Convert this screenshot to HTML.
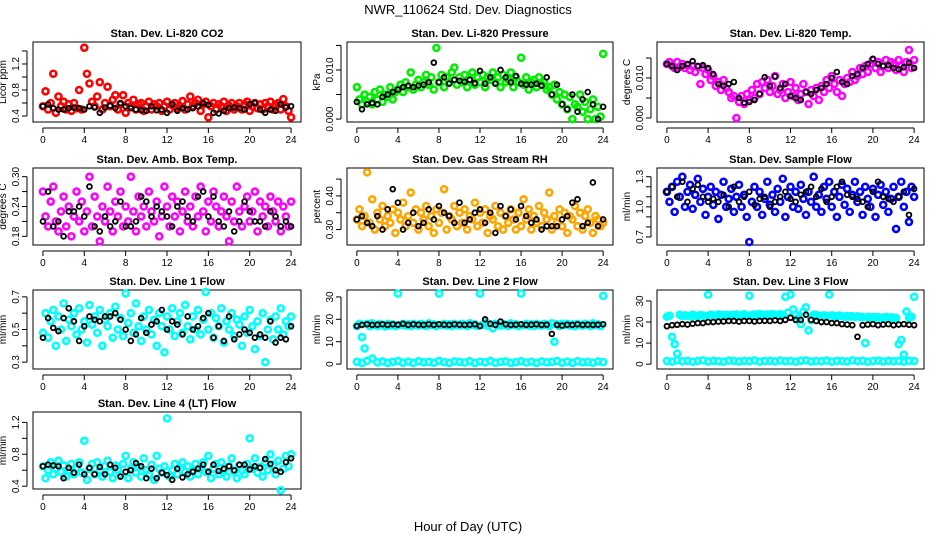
<!DOCTYPE html>
<html><head><meta charset="utf-8">
<style>
html,body{margin:0;padding:0;background:#fff;}
svg{display:block;font-family:"Liberation Sans",Arial,sans-serif;}
</style></head>
<body>
<svg id="chart" width="936" height="540" viewBox="0 0 936 540">
<text x="468" y="14" text-anchor="middle" font-size="13">NWR_110624  Std. Dev. Diagnostics</text>
<text x="468" y="531" text-anchor="middle" font-size="13">Hour of Day (UTC)</text>
</svg>
<script>
// ---------- data ----------
const xTicks = [0,4,8,12,16,20,24];
const co2Red = [0.55,0.78,0.5,0.6,1.05,0.45,0.7,0.55,0.62,0.5,0.58,0.48,0.6,0.52,0.8,0.5,1.45,1.05,0.9,0.62,0.55,0.7,0.92,0.5,0.6,0.85,0.55,0.65,0.72,0.5,0.58,0.72,0.45,0.6,0.55,0.65,0.5,0.58,0.6,0.48,0.55,0.62,0.5,0.58,0.55,0.6,0.48,0.55,0.62,0.5,0.57,0.6,0.52,0.55,0.63,0.5,0.58,0.7,0.55,0.6,0.65,0.48,0.58,0.62,0.38,0.55,0.6,0.5,0.58,0.55,0.62,0.48,0.56,0.6,0.5,0.55,0.6,0.5,0.58,0.62,0.48,0.55,0.6,0.52,0.58,0.5,0.6,0.55,0.62,0.5,0.57,0.6,0.5,0.66,0.55,0.48,0.38];
const co2Black = [0.55,0.58,0.52,0.5,0.5,0.52,0.53,0.52,0.5,0.55,0.53,0.45,0.53,0.56,0.52,0.6,0.55,0.52,0.5,0.49,0.48,0.55,0.49,0.5,0.45,0.58,0.48,0.52,0.5,0.52,0.55,0.6,0.57,0.45,0.44,0.48,0.52,0.53,0.52,0.5,0.58,0.6,0.5,0.45,0.5,0.48,0.58,0.53,0.55];
const presGreen = [0.0065,0.004,0.003,0.005,0.0035,0.0045,0.003,0.0055,0.004,0.006,0.0035,0.005,0.0045,0.0065,0.004,0.0055,0.006,0.007,0.0055,0.0075,0.0065,0.0095,0.006,0.007,0.008,0.0065,0.0075,0.009,0.007,0.0085,0.006,0.0145,0.0075,0.009,0.0065,0.0085,0.0075,0.0095,0.0105,0.007,0.0085,0.0075,0.009,0.0065,0.008,0.0095,0.007,0.0085,0.0075,0.009,0.0065,0.0085,0.008,0.0095,0.0075,0.0085,0.0065,0.009,0.0075,0.008,0.0095,0.0065,0.0085,0.0075,0.0125,0.007,0.0085,0.006,0.0075,0.008,0.0065,0.0085,0.007,0.0075,0.006,0.0065,0.005,0.007,0.004,0.0055,0.003,0.005,0.002,0.0045,0.0,0.003,0.0025,0.005,0.0015,0.0035,0.0,0.002,0.004,0.0,0.0025,0.0005,0.0133];
const presBlack = [0.0035,0.002,0.003,0.0033,0.003,0.0045,0.005,0.0055,0.006,0.0065,0.0068,0.0065,0.0068,0.007,0.0075,0.0115,0.0075,0.0085,0.0072,0.008,0.0078,0.0076,0.008,0.0073,0.0098,0.0072,0.0085,0.0072,0.01,0.0085,0.0075,0.0088,0.0072,0.007,0.007,0.0072,0.0068,0.0085,0.005,0.007,0.003,0.002,0.005,0.0015,0.004,0.0055,0.003,0.0,0.0025];
const tempMag = [0.0135,0.014,0.013,0.0125,0.014,0.0128,0.0135,0.0125,0.0132,0.012,0.013,0.0115,0.0128,0.0085,0.0125,0.011,0.012,0.0095,0.0105,0.008,0.009,0.007,0.0095,0.0075,0.0065,0.005,0.0055,0.0,0.004,0.0055,0.0035,0.006,0.0045,0.007,0.005,0.0085,0.006,0.009,0.0075,0.0095,0.0065,0.008,0.0105,0.006,0.007,0.0085,0.005,0.0065,0.009,0.0055,0.0075,0.0045,0.006,0.0085,0.0065,0.0035,0.007,0.0055,0.0075,0.0045,0.008,0.0065,0.0095,0.0075,0.0105,0.0085,0.0065,0.0095,0.0055,0.0085,0.01,0.009,0.0115,0.0095,0.0105,0.0125,0.011,0.013,0.0115,0.0135,0.0145,0.0125,0.014,0.0115,0.013,0.0145,0.0125,0.014,0.0135,0.012,0.0145,0.013,0.0115,0.014,0.017,0.0125,0.0145];
const tempBlack = [0.0135,0.013,0.012,0.013,0.0135,0.0142,0.013,0.0132,0.0125,0.011,0.0085,0.008,0.0085,0.009,0.005,0.0038,0.004,0.0045,0.006,0.0102,0.008,0.0104,0.0075,0.0085,0.0055,0.005,0.0045,0.0065,0.006,0.007,0.0075,0.0085,0.01,0.0115,0.009,0.0085,0.0105,0.011,0.0125,0.0135,0.0148,0.0135,0.013,0.0132,0.0125,0.0122,0.0127,0.0138,0.0125];
const boxMag = [0.27,0.22,0.2,0.25,0.28,0.21,0.19,0.23,0.26,0.2,0.24,0.18,0.22,0.27,0.21,0.25,0.19,0.23,0.3,0.2,0.26,0.22,0.17,0.24,0.21,0.28,0.23,0.19,0.25,0.22,0.27,0.2,0.24,0.21,0.3,0.23,0.19,0.26,0.22,0.24,0.2,0.27,0.23,0.21,0.25,0.18,0.22,0.28,0.24,0.2,0.26,0.22,0.25,0.19,0.23,0.27,0.21,0.24,0.2,0.26,0.22,0.28,0.23,0.19,0.25,0.21,0.27,0.24,0.2,0.23,0.26,0.22,0.17,0.25,0.21,0.28,0.23,0.2,0.24,0.26,0.21,0.23,0.27,0.19,0.25,0.22,0.24,0.2,0.26,0.23,0.21,0.25,0.19,0.24,0.22,0.2,0.25];
const boxBlack = [0.21,0.27,0.2,0.21,0.18,0.23,0.23,0.24,0.22,0.28,0.2,0.19,0.22,0.2,0.21,0.25,0.2,0.2,0.21,0.26,0.25,0.22,0.24,0.23,0.22,0.2,0.24,0.25,0.22,0.21,0.26,0.27,0.22,0.26,0.21,0.2,0.23,0.19,0.21,0.25,0.23,0.21,0.21,0.2,0.23,0.22,0.2,0.21,0.2];
const rhOrange = [0.33,0.36,0.31,0.34,0.47,0.32,0.39,0.3,0.35,0.33,0.37,0.31,0.34,0.32,0.36,0.29,0.35,0.33,0.38,0.31,0.34,0.41,0.32,0.36,0.3,0.35,0.33,0.37,0.31,0.34,0.29,0.36,0.32,0.35,0.42,0.3,0.34,0.33,0.37,0.31,0.35,0.32,0.36,0.3,0.34,0.33,0.38,0.31,0.35,0.32,0.36,0.29,0.34,0.33,0.37,0.31,0.35,0.3,0.34,0.32,0.36,0.33,0.3,0.35,0.31,0.39,0.33,0.36,0.3,0.34,0.32,0.37,0.31,0.35,0.33,0.41,0.3,0.34,0.32,0.36,0.31,0.35,0.29,0.34,0.33,0.37,0.31,0.35,0.3,0.34,0.36,0.32,0.29,0.34,0.33,0.31,0.32];
const rhBlack = [0.33,0.34,0.32,0.31,0.34,0.3,0.36,0.42,0.38,0.3,0.32,0.35,0.31,0.32,0.36,0.33,0.37,0.35,0.34,0.32,0.38,0.32,0.33,0.35,0.36,0.32,0.35,0.29,0.37,0.34,0.36,0.33,0.37,0.34,0.32,0.33,0.3,0.31,0.31,0.31,0.33,0.34,0.38,0.39,0.31,0.32,0.44,0.31,0.33];
const flowBlue = [1.15,1.05,1.2,0.95,1.25,1.1,1.3,1.0,1.15,1.22,0.98,1.12,1.28,1.05,1.18,0.92,1.1,1.2,1.02,1.15,0.88,1.12,1.25,1.0,1.08,1.18,0.95,1.1,1.22,1.0,1.12,0.9,0.65,1.05,1.2,1.0,1.15,0.92,1.08,1.25,1.02,1.12,0.95,1.18,1.05,1.28,0.9,1.1,1.2,1.0,1.15,0.98,1.22,1.08,0.92,1.15,1.05,1.3,1.0,1.12,0.95,1.2,1.08,1.25,1.0,1.15,0.9,1.1,1.22,1.02,1.18,0.95,1.12,1.25,1.05,1.15,0.92,1.2,1.08,1.0,1.18,0.9,1.12,1.22,1.02,1.15,0.95,1.08,1.2,0.78,1.1,1.25,1.0,1.15,0.85,1.2,1.1];
const flowBlack = [1.15,1.2,1.1,1.25,1.05,1.18,1.22,1.1,1.05,1.08,1.05,1.12,1.0,1.2,1.05,1.1,1.15,1.02,1.08,1.1,1.0,1.05,1.1,1.15,1.08,1.05,1.12,1.15,1.2,1.1,1.18,1.05,1.1,1.2,1.25,1.12,1.1,1.08,1.05,1.0,1.15,1.25,1.1,1.08,1.05,1.1,1.15,0.92,1.18];
const line1Cyan = [0.48,0.6,0.45,0.55,0.62,0.4,0.58,0.5,0.66,0.43,0.56,0.52,0.6,0.47,0.63,0.5,0.55,0.42,0.65,0.53,0.58,0.48,0.62,0.4,0.56,0.52,0.6,0.45,0.64,0.5,0.57,0.46,0.72,0.54,0.6,0.48,0.66,0.52,0.43,0.58,0.5,0.62,0.47,0.56,0.4,0.6,0.52,0.36,0.58,0.5,0.63,0.46,0.55,0.6,0.48,0.65,0.52,0.44,0.58,0.5,0.62,0.47,0.56,0.73,0.5,0.6,0.45,0.57,0.52,0.63,0.42,0.55,0.5,0.6,0.46,0.56,0.53,0.4,0.58,0.48,0.62,0.52,0.38,0.55,0.46,0.6,0.3,0.5,0.56,0.44,0.58,0.5,0.63,0.47,0.55,0.52,0.58];
const line1Black = [0.45,0.57,0.51,0.49,0.57,0.63,0.55,0.43,0.52,0.58,0.56,0.55,0.58,0.58,0.6,0.56,0.5,0.43,0.47,0.57,0.48,0.53,0.55,0.62,0.5,0.55,0.53,0.47,0.58,0.5,0.52,0.57,0.6,0.45,0.52,0.43,0.58,0.44,0.47,0.5,0.48,0.45,0.47,0.45,0.55,0.42,0.45,0.44,0.52];
const line2CyanHigh = [17,18,12,7,18,17,18.2,17.5,17,18,17.5,16.8,18,17.2,17.8,17,31.5,17.5,18,17.2,17.8,17,18,17.5,17.2,18,17.5,17,18.2,17.5,17.8,17,31.5,17.5,18,17.2,17.8,17,18,17.5,17.2,18,17.5,17,18.2,17.5,17.8,17,31.5,17.5,18.5,17.2,17.8,16,18,17.5,17.2,18,17.5,17,18.2,17.5,17.8,17,31.5,17.5,18,17.2,17.8,17,18,17.5,17.2,18,17.5,17,18.2,10,17.8,17,18,17.5,18,17.2,17.8,17,18,17.5,17.2,18,17.5,17,18.2,17.5,17.8,17,30.5];
const line2CyanLow = [1,0.5,1.5,2.5,0.8,1.2,0.5,1,1.4,0.6,1.1,0.5,1.3,0.8,1,0.6,1.4,0.9,0.5,1.2,1,0.7,1.3,0.5,1.1,0.8,1.4,0.6,1,1.2,0.5,0.9,1.3,0.7,1.1,0.5,1.2,0.8,1,1.4,0.6,1.1,0.5,1.3,0.8,1,0.6,1.2,0.9];
const line2Black = [17,17.5,17.8,17.5,17.6,17.8,17.5,17.8,17.6,18,17.5,17.8,17.6,17.5,17.8,17.5,17.8,17.6,17.5,17.8,17.6,17.5,17.6,17.8,17,20,18,17.5,19,17.8,17.5,17.6,17.8,17.5,17.6,17.8,17.5,17.6,13.5,17.5,17.2,17.6,17.5,17.8,17.5,17.6,17.5,17.6,17.8];
const line3CyanHigh = [22.5,23,13,9.5,5,23.5,22.8,23.2,23,22.7,23.5,23,22.8,23.3,23.1,22.9,33,23.5,23.2,23,23.6,23.3,23.1,23.5,22.9,23.4,23.2,23.6,23.3,23.1,23.7,23.2,32.5,23.4,23.6,23.3,23.8,23.5,23.2,23.6,23.4,23.8,23.5,23.3,23.7,23.4,32,24.5,33,26,23.5,22,19,25,27,16,21,23.5,23.3,23,22.8,23.2,23,33,23.2,22.9,22.7,23.1,22.8,22.5,22.9,22.6,22.8,22.4,22.7,22.5,22.3,10,22.5,22.2,22.4,22.1,22.3,22,22.2,22.4,22,22.3,21.8,22,9.5,11.5,4.5,25,22,22.5,32];
const line3CyanLow = [1.5,1.2,1.8,1.4,1.6,1.2,1.5,1.8,1.3,1.6,1.4,1.2,1.7,1.5,1.3,1.6,1.4,1.8,1.2,1.5,1.6,1.3,1.7,1.4,1.5,1.2,1.6,1.8,1.3,1.5,1.4,1.7,1.2,1.6,1.5,1.3,1.8,1.4,1.6,1.2,1.5,1.7,1.3,1.6,1.4,1.5,1.2,1.6,1.5];
const line3Black = [18,18.5,18.7,19,18.8,19.2,19.5,19.5,20,20,20.2,20.3,20.5,20.5,20.2,20.5,20.5,20.3,20.5,20.6,20.5,20.8,20.5,21,22,21,21,23.5,21,20.5,20,20,19.5,19.5,19,18.8,18.5,13,18.5,18.8,19,18.5,18.8,19,18.5,18.8,19,18.7,18.5];
const line4Cyan = [0.65,0.5,0.6,0.7,0.55,0.62,0.72,0.58,0.66,0.52,0.6,0.68,0.55,0.63,0.7,0.57,0.97,0.48,0.62,0.68,0.55,0.7,0.6,0.52,0.65,0.72,0.58,0.5,0.66,0.6,0.55,0.68,0.78,0.5,0.62,0.7,0.57,0.64,0.52,0.75,0.6,0.55,0.67,0.48,0.78,0.62,0.57,0.65,1.25,0.52,0.6,0.68,0.55,0.62,0.7,0.58,0.65,0.52,0.6,0.68,0.55,0.63,0.7,0.58,0.78,0.5,0.62,0.68,0.55,0.7,0.6,0.52,0.65,0.75,0.58,0.5,0.66,0.6,0.55,0.68,1.0,0.62,0.75,0.57,0.64,0.52,0.7,0.6,0.8,0.67,0.55,0.72,0.35,0.62,0.78,0.65,0.8];
const line4Black = [0.65,0.67,0.66,0.65,0.5,0.63,0.57,0.67,0.55,0.63,0.55,0.64,0.55,0.67,0.63,0.52,0.58,0.6,0.69,0.65,0.5,0.62,0.5,0.57,0.54,0.48,0.62,0.51,0.55,0.58,0.62,0.67,0.58,0.67,0.59,0.62,0.65,0.6,0.67,0.67,0.61,0.65,0.63,0.74,0.68,0.6,0.58,0.7,0.75];
const yTicks1 = [0.4,0.6,0.8,1.0,1.2,1.4], yLabels1 = ["0.4","","0.8","","1.2",""];
const yTicks2 = [0,0.005,0.01,0.015], yLabels2 = ["0.000","","0.010",""];
const yTicks3 = [0,0.005,0.01,0.015], yLabels3 = ["0.000","","0.010",""];
const yTicks4 = [0.18,0.21,0.24,0.27,0.30], yLabels4 = ["0.18","","0.24","","0.30"];
const yTicks5 = [0.30,0.35,0.40,0.45], yLabels5 = ["0.30","","0.40",""];
const yTicks6 = [0.7,0.8,0.9,1.0,1.1,1.2,1.3], yLabels6 = ["0.7","","","1.0","","","1.3"];
const yTicks7 = [0.3,0.4,0.5,0.6,0.7], yLabels7 = ["0.3","","0.5","","0.7"];
const yTicks8 = [0,10,20,30], yLabels8 = ["0","10","20","30"];
const yTicks9 = [0,10,20,30], yLabels9 = ["0","10","20","30"];
const yTicks10 = [0.4,0.6,0.8,1.0,1.2], yLabels10 = ["0.4","","0.8","","1.2"];

// ---------- layout ----------
const colX = [[33,301],[347,613],[657,924]];
const rowY = [[42,122],[168,245],[290,369],[412,489]];
const panels = [
 {name:'co2',title:'Stan. Dev. Li-820 CO2',ylab:'Licor ppm',c:0,r:0,dom:[0.308,1.538],yt:yTicks1,yl:yLabels1,series:[[co2Red,'#ff0000'],[co2Black,'#000']]},
 {name:'pressure',title:'Stan. Dev. Li-820 Pressure',ylab:'kPa',c:1,r:0,dom:[-0.0006,0.0157],yt:yTicks2,yl:yLabels2,series:[[presGreen,'#00ee00'],[presBlack,'#000']]},
 {name:'li820-temp',title:'Stan. Dev. Li-820 Temp.',ylab:'degrees C',c:2,r:0,dom:[-0.001,0.019],yt:yTicks3,yl:yLabels3,series:[[tempMag,'#ff00ff'],[tempBlack,'#000']]},
 {name:'box-temp',title:'Stan. Dev. Amb. Box Temp.',ylab:'degrees C',c:0,r:1,dom:[0.1626,0.3174],yt:yTicks4,yl:yLabels4,series:[[boxMag,'#ff00ff'],[boxBlack,'#000']]},
 {name:'gas-rh',title:'Stan. Dev. Gas Stream RH',ylab:'percent',c:1,r:1,dom:[0.254,0.483],yt:yTicks5,yl:yLabels5,series:[[rhOrange,'#ffa500'],[rhBlack,'#000']]},
 {name:'sample-flow',title:'Stan. Dev. Sample Flow',ylab:'ml/min',c:2,r:1,dom:[0.62,1.387],yt:yTicks6,yl:yLabels6,series:[[flowBlue,'#0000ff'],[flowBlack,'#000']]},
 {name:'line1-flow',title:'Stan. Dev. Line 1 Flow',ylab:'ml/min',c:0,r:2,dom:[0.258,0.742],yt:yTicks7,yl:yLabels7,series:[[line1Cyan,'#00ffff'],[line1Black,'#000']]},
 {name:'line2-flow',title:'Stan. Dev. Line 2 Flow',ylab:'ml/min',c:1,r:2,dom:[-2.2,33.1],yt:yTicks8,yl:yLabels8,series:[[line2CyanLow,'#00ffff'],[line2CyanHigh,'#00ffff'],[line2Black,'#000']]},
 {name:'line3-flow',title:'Stan. Dev. Line 3 Flow',ylab:'ml/min',c:2,r:2,dom:[-2.3,35.2],yt:yTicks9,yl:yLabels9,series:[[line3CyanLow,'#00ffff'],[line3CyanHigh,'#00ffff'],[line3Black,'#000']]},
 {name:'line4-flow',title:'Stan. Dev. Line 4 (LT) Flow',ylab:'ml/min',c:0,r:3,dom:[0.365,1.33],yt:yTicks10,yl:yLabels10,series:[[line4Cyan,'#00ffff'],[line4Black,'#000']]}
];
const NS='http://www.w3.org/2000/svg';
const svg=document.getElementById('chart');
function mk(tag,attrs,parent){const e=document.createElementNS(NS,tag);for(const k in attrs)e.setAttribute(k,attrs[k]);(parent||svg).appendChild(e);return e;}
panels.forEach(p=>{
  const [x0,x1]=colX[p.c],[y0,y1]=rowY[p.r];
  const g=mk('g',{});
  
  
  const xs=h=>x0+(h+0.96)/25.92*(x1-x0);
  const ys=v=>y1-(v-p.dom[0])/(p.dom[1]-p.dom[0])*(y1-y0);
  const t=mk('text',{x:(x0+x1)/2,y:y0-5,'text-anchor':'middle','font-size':11,'font-weight':'bold'},g);
  t.textContent=p.title;
  
  
  const box=mk('rect',{x:x0,y:y0,width:x1-x0,height:y1-y0,fill:'none',stroke:'#000','stroke-width':1},g);
  
  
  const xa=mk('g',{},g);
  
  
  mk('line',{x1:xs(xTicks[0]),x2:xs(xTicks[xTicks.length-1]),y1:y1+6,y2:y1+6,stroke:'#000'},xa);
  xTicks.forEach(v=>{
    mk('line',{x1:xs(v),x2:xs(v),y1:y1+6,y2:y1+11,stroke:'#000'},xa);
    const l=mk('text',{x:xs(v),y:y1+21,'text-anchor':'middle','font-size':10},xa);l.textContent=v;
  });
  const ya=mk('g',{},g);
  
  
  mk('line',{x1:x0-6,x2:x0-6,y1:ys(p.yt[0]),y2:ys(p.yt[p.yt.length-1]),stroke:'#000'},ya);
  p.yt.forEach((v,i)=>{
    mk('line',{x1:x0-11,x2:x0-6,y1:ys(v),y2:ys(v),stroke:'#000'},ya);
    if(p.yl[i]){const l=mk('text',{x:x0-14,y:ys(v),'text-anchor':'middle','font-size':10,transform:`rotate(-90 ${x0-14} ${ys(v)})`},ya);l.textContent=p.yl[i];}
  });
  const yt=mk('text',{x:x0-27,y:(y0+y1)/2,'text-anchor':'middle','font-size':10,transform:`rotate(-90 ${x0-27} ${(y0+y1)/2})`},g);
  yt.textContent=p.ylab;
  
  
  p.series.forEach(([vals,col],si)=>{
    const isBlack=col==='#000';
    const sg=mk('g',{fill:'none',stroke:col,'stroke-width':isBlack?1.8:2.6},g);
    
    
    vals.forEach((v,i)=>{
      const h=i*24/(vals.length-1);
      const c=mk('circle',{cx:xs(h),cy:ys(v),r:isBlack?2.4:3},sg);
      
      
    });
  });
});
</script>
</body></html>
